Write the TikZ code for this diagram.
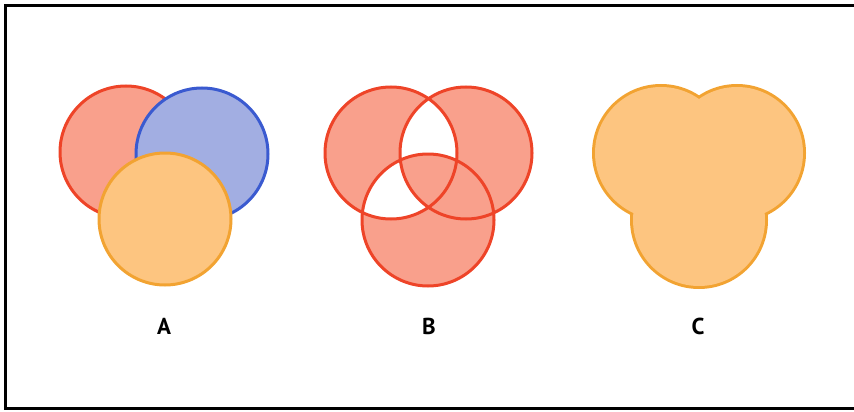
\documentclass[tikz,border=0pt]{standalone}
\usepackage{fontspec}
\setmainfont{PT Sans}
\usepackage{xcolor}
\usepackage{tikz}
\usetikzlibrary{positioning}

\definecolor{redfill}{RGB}{249,160,140}
\definecolor{redline}{RGB}{238,68,40}
\definecolor{bluefill}{RGB}{162,174,226}
\definecolor{blueline}{RGB}{58,90,208}
\definecolor{orangefill}{RGB}{253,197,128}
\definecolor{orangeline}{RGB}{242,163,50}

\begin{document}
\begin{tikzpicture}[x=1pt,y=-1pt,
  disc/.style={line width=3pt},
  tag/.style={font=\fontsize{23}{26}\selectfont\bfseries}]
\useasboundingbox (0,0) rectangle (854,412);
% frame, open on the right
\draw[line width=3pt] (854,5.5) -- (5.5,5.5) -- (5.5,408.5) -- (854,408.5);

% A: stacked circles
\foreach \cx/\cy/\fc/\lc in {126/152/redfill/redline, 202/154/bluefill/blueline, 165/219/orangefill/orangeline}
  \draw[disc,fill=\fc,draw=\lc] (\cx,\cy) circle (66);

% B: divided circles
\def\rB{66}
\fill[redfill] (391,153) circle (\rB) (466,153) circle (\rB) (428,220) circle (\rB);
\begin{scope}
  \clip (391,153) circle (\rB);
  \fill[white] (466,153) circle (\rB) (428,220) circle (\rB);
\end{scope}
\begin{scope}
  \clip (391,153) circle (\rB);
  \clip (466,153) circle (\rB);
  \clip (428,220) circle (\rB);
  \fill[redfill] (391,153) circle (\rB);
\end{scope}
\draw[disc,draw=redline] (391,153) circle (\rB) (466,153) circle (\rB) (428,220) circle (\rB);

% C: merged outline
\foreach \cx/\cy in {661/153, 737/153, 699/220}
  \draw[line width=6pt,draw=orangeline] (\cx,\cy) circle (66);
\foreach \cx/\cy in {661/153, 737/153, 699/220}
  \fill[orangefill] (\cx,\cy) circle (66);

% labels
\node[tag] (labA) at (164,326) {A};
\node[tag] (labB) at (429,326) {B};
\node[tag] (labC) at (698,326) {C};
\end{tikzpicture}
\end{document}
